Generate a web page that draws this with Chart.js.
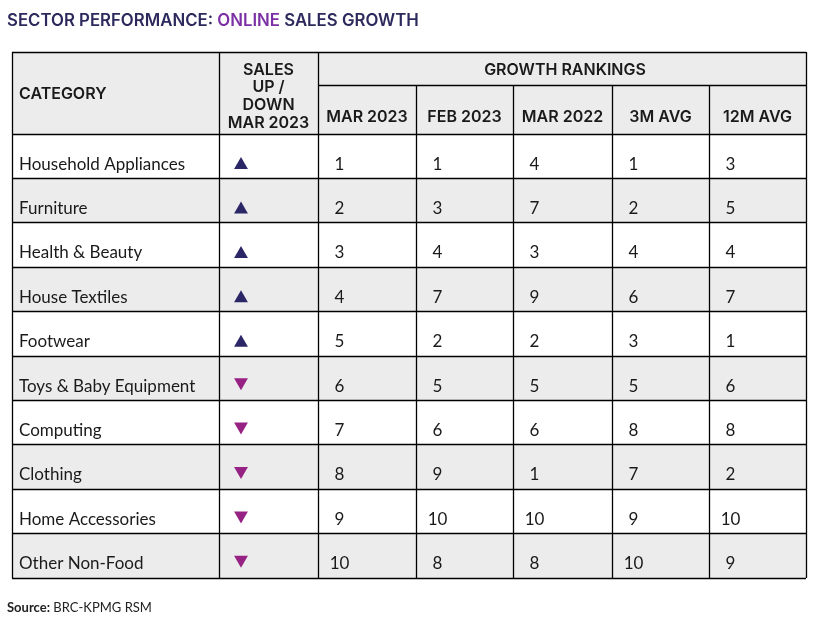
<!DOCTYPE html>
<html><head><meta charset="utf-8">
<script src="https://cdn.jsdelivr.net/npm/chart.js@4.4.1/dist/chart.umd.min.js"></script>
<style>
html,body{margin:0;padding:0;background:#fff;}
#wrap{position:relative;width:838px;height:622px;overflow:hidden;background:#fff;}
#c{position:absolute;left:0;top:0;}
.title{position:absolute;left:7px;top:12px;font:600 16.8px/16.8px Inter, sans-serif;color:#2c2a5c;white-space:nowrap;}
.title .hl{color:#7b31a5;}
.source{position:absolute;left:7px;top:601px;font:13px/13px Lato, sans-serif;color:#222;white-space:nowrap;}
.source b{font-weight:700;}
</style></head><body>
<div id="wrap">
<canvas id="c" width="838" height="622"></canvas>
<div class="title">SECTOR PERFORMANCE: <span class="hl">ONLINE</span> SALES GROWTH</div>
<div class="source"><b>Source:</b> BRC-KPMG RSM</div>
</div>
<script>
// ---- data ----
const categories = ['Household Appliances','Furniture','Health & Beauty','House Textiles','Footwear','Toys & Baby Equipment','Computing','Clothing','Home Accessories','Other Non-Food'];
const salesDirection = ['up','up','up','up','up','down','down','down','down','down'];
const rankMar2023 = [1,2,3,4,5,6,7,8,9,10];
const rankFeb2023 = [1,3,4,7,2,5,6,9,10,8];
const rankMar2022 = [4,7,3,9,2,5,6,1,10,8];
const rank3mAvg   = [1,2,4,6,3,5,8,7,9,10];
const rank12mAvg  = [3,5,4,7,1,6,8,2,10,9];
const rankLabels = ['MAR 2023','FEB 2023','MAR 2022','3M AVG','12M AVG'];
const rankSeries = [rankMar2023, rankFeb2023, rankMar2022, rank3mAvg, rank12mAvg];
const headCategory = 'CATEGORY';
const headSales = ['SALES','UP /','DOWN','MAR 2023'];
const headGroup = 'GROWTH RANKINGS';

// ---- layout / style ----
const colEdges = [0,207,306,404,501,600,697,794]; // x-scale units
const markX = 229;
const markOffset = {up:0.2, down:0.09};
const GRAY = '#ececec';
const UP_COLOR = '#2b2766', DOWN_COLOR = '#962283';
const HEAD_FONT = '600 16px Inter, sans-serif';
const BODY_FONT = '17px Lato, sans-serif';
const TEXT = '#1a1a1a';

const tablePlugin = {
  id:'table',
  beforeDatasetsDraw(chart){
    const {ctx, chartArea:a, scales:{x,y}} = chart;
    const X = v => x.getPixelForValue(v);
    const Y = v => y.getPixelForValue(v);
    const top = a.top - 82, mid = a.top - 49;
    const L = a.left, R = a.right, B = a.bottom;
    ctx.save();
    ctx.fillStyle = GRAY;
    ctx.fillRect(L, top, R-L, a.top-top);
    categories.forEach((c,i)=>{ if(i%2===1) ctx.fillRect(L, Y(i), R-L, Y(i+1)-Y(i)); });

    // header text
    ctx.fillStyle = TEXT;
    ctx.font = HEAD_FONT;
    ctx.textBaseline = 'alphabetic';
    ctx.textAlign = 'left';
    ctx.fillText(headCategory, X(colEdges[0])+7, top+46.5);
    ctx.textAlign = 'center';
    const sc = (X(colEdges[1])+X(colEdges[2]))/2;
    headSales.forEach((t,k)=> ctx.fillText(t, sc, top+22.5+k*17.8));
    ctx.fillText(headGroup, (X(colEdges[2])+X(colEdges[7]))/2 + 3, top+22.5);
    rankLabels.forEach((t,k)=> ctx.fillText(t, (X(colEdges[k+2])+X(colEdges[k+3]))/2, mid+37));

    // body text
    ctx.font = BODY_FONT;
    categories.forEach((c,i)=>{
      ctx.textAlign = 'left';
      ctx.fillText(c, X(colEdges[0])+7, Y(i+0.8));
      ctx.textAlign = 'center';
      rankSeries.forEach((s,k)=> ctx.fillText(String(s[i]), X(colEdges[k+2])+21.5, Y(i+0.8)));
    });

    // grid lines
    const p = v => Math.floor(v)+0.5;
    ctx.strokeStyle = '#000';
    ctx.lineWidth = 1.3;
    ctx.beginPath();
    const h = (x1,x2,yy)=>{ctx.moveTo(x1,p(yy));ctx.lineTo(x2,p(yy));};
    const v = (xx,y1,y2)=>{ctx.moveTo(p(xx),y1);ctx.lineTo(p(xx),y2);};
    h(L, R, top); h(X(colEdges[2]), R, mid);
    for(let i=0;i<=categories.length;i++) h(L, R, Y(i));
    [0,1,2,7].forEach(k=> v(X(colEdges[k]), top, B));
    [3,4,5,6].forEach(k=> v(X(colEdges[k]), mid, B));
    ctx.stroke();
    ctx.restore();
  }
};

new Chart(document.getElementById('c'), {
  type:'scatter',
  data:{datasets:[{
    data: categories.map((c,i)=>({x:markX, y:i+0.5+markOffset[salesDirection[i]]})),
    pointStyle:'triangle',
    pointRadius:8,
    pointRotation: ctx => salesDirection[ctx.dataIndex]==='up'?0:180,
    pointBackgroundColor: ctx => salesDirection[ctx.dataIndex]==='up'?UP_COLOR:DOWN_COLOR,
    pointBorderWidth:0,
    pointBorderColor:'rgba(0,0,0,0)'
  }]},
  options:{
    responsive:false, animation:false, events:[],
    layout:{padding:{left:12,right:32,top:134,bottom:44}},
    scales:{
      x:{type:'linear',min:0,max:794,display:false},
      y:{type:'linear',min:0,max:10,reverse:true,display:false}
    },
    plugins:{legend:{display:false},tooltip:{enabled:false}}
  },
  plugins:[tablePlugin]
});
</script>
</body></html>
